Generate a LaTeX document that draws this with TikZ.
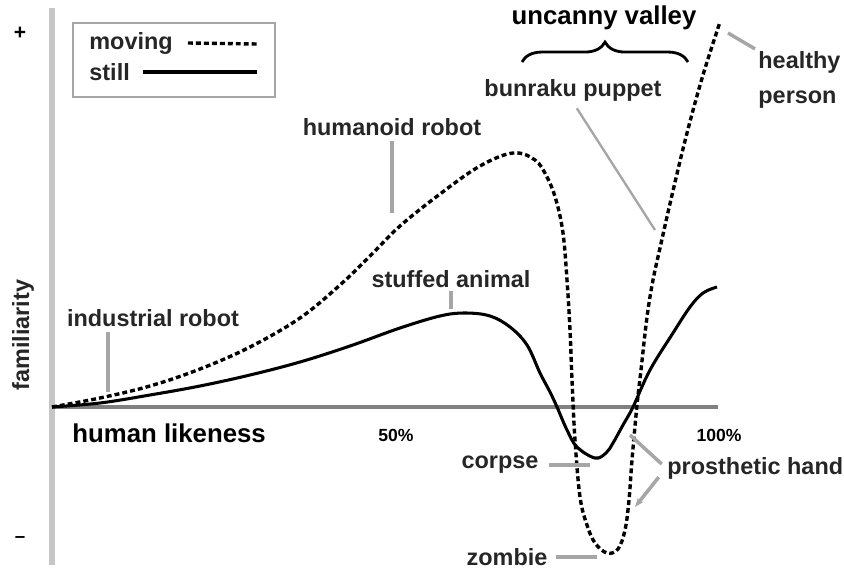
\documentclass[tikz,border=0pt]{standalone}
\usepackage{fontspec}
\setmainfont{Liberation Sans}
\usetikzlibrary{arrows.meta, positioning}
\usetikzlibrary{decorations.pathreplacing}
\usepackage{xcolor}

\begin{document}
\begin{tikzpicture}[x=0.03cm, y=-0.03cm,
    lbl/.style={font=\fontsize{20}{30}\selectfont\bfseries, inner sep=1pt,
        text=black!85},
    biglbl/.style={font=\fontsize{22}{26}\selectfont\bfseries, inner sep=1pt},
    pctlbl/.style={font=\fontsize{15}{18}\selectfont\bfseries, inner sep=1pt},
    pointer/.style={draw=gray!70, line width=3pt},
    movingline/.style={line width=2.9pt, dash pattern=on 4.2pt off 2.6pt},
    stillline/.style={line width=2.6pt}]
    \useasboundingbox (0,0) rectangle (844,569);

    % axes
    \draw[gray!45, line width=5pt] (52,8) -- (52,565);
    \draw[gray, line width=2.6pt] (52,407) -- (718,407);
    \node[font=\fontsize{18}{18}\selectfont\bfseries] (plus) at (20,33) {+};
    \node[font=\fontsize{16}{18}\selectfont\bfseries] (minus) at (20,540) {--};
    \node[lbl, rotate=90] (famil) at (23,335) {familiarity};
    \node[biglbl, anchor=west] (hlike) at (71,433) {human likeness};
    \node[pctlbl] (fifty) at (396,435) {50\%};
    \node[pctlbl] (hundred) at (719,435) {100\%};

    % legend
    \node[draw=gray!70, line width=1.5pt, minimum width=202*0.03cm,
        minimum height=74*0.03cm, inner sep=0pt] (legend) at (174,60) {};
    \node[lbl, anchor=west] (mov) at (88,43) {moving};
    \node[lbl, anchor=west] (stl) at (88,72) {still};
    \coordinate (movend) at (257,44);
    \coordinate (stlend) at (257,72);
    \draw[movingline] (mov.east -| 188,0) -- (movend);
    \draw[stillline] (stl.east -| 143,0) -- (stlend);

    % curves
    \draw[stillline, smooth, tension=0.6] plot coordinates {
        (52,407) (100,403) (150,395) (200,386) (250,375) (300,362) (350,346)
        (400,328) (440,316) (465,313) (490,316) (510,327)
        (527,345) (540,373) (550,392) (557,407) (567,430) (577,447) (595,458)
        (606,453) (613,443) (623,425) (633,407) (650,370) (673,333) (690,307)
        (703,293) (717,287)};
    \draw[movingline, smooth, tension=0.6] plot coordinates {
        (52,407) (100,398) (150,386) (200,369) (250,347) (300,318) (340,285)
        (370,256) (400,226) (440,194) (480,166) (513,153) (535,160)
        (547,177) (556,200) (563,233) (567,280) (570,330) (572,380) (575,440)
        (580,497) (587,525) (595,543) (607,553) (618,549) (625,530) (629,500)
        (632,460) (637,405) (641,370) (647,317) (653,280) (660,248) (672,195)
        (687,133) (703,75) (720,22)};

    % labels
    \node[lbl] (indrobot) at (153,318) {industrial robot};
    \node[lbl] (humrobot) at (392,127) {humanoid robot};
    \node[lbl] (stuffed) at (451,279) {stuffed animal};
    \node[lbl] (bunraku) at (573,90) {bunraku puppet};
    \node[lbl, anchor=west, align=left] (healthy) at (757,80) {healthy\\person};
    \node[lbl] (corpse) at (500,465) {corpse};
    \node[lbl, anchor=west] (prosth) at (666,468) {prosthetic hand};
    \node[lbl] (zombie) at (507,557) {zombie};
    \node[biglbl] (uncanny) at (604,18) {uncanny valley};

    \coordinate (bracel) at (522,62);
    \coordinate (bracer) at (688,62);
    \draw[line width=2.4pt, decorate, decoration={brace, amplitude=17pt}]
        (bracel) -- (bracer);

    % pointers
    \coordinate (indtip) at (108,392);
    \coordinate (humtip) at (392,213);
    \coordinate (stufftip) at (451,309);
    \coordinate (buntip) at (655,230);
    \coordinate (healthtip) at (728,33);
    \coordinate (corptip) at (590,465);
    \coordinate (prostipA) at (630,435);
    \coordinate (prostipB) at (635,507);
    \coordinate (zomtip) at (597,557);

    \draw[pointer] (indrobot.south -| indtip) ++(0,4) -- (indtip);
    \draw[pointer] (humrobot.south) ++(0,4) -- (humtip);
    \draw[pointer] (stuffed.south) ++(0,2) -- (stufftip);
    \draw[pointer, line width=2pt, shorten <=6pt] (bunraku.south) -- (buntip);
    \draw[pointer, shorten >=2pt] (healthtip) -- (healthy.north west);
    \draw[pointer, shorten <=8pt] (corpse.east) -- (corptip);
    \draw[pointer, shorten <=5pt] (prosth.west) -- (prostipA);
    \draw[pointer, shorten <=10pt, -{Stealth[length=8pt, width=6pt]}] (prosth.west) -- (prostipB);
    \draw[pointer, shorten <=6pt] (zombie.east) -- (zomtip);
\end{tikzpicture}
\end{document}
